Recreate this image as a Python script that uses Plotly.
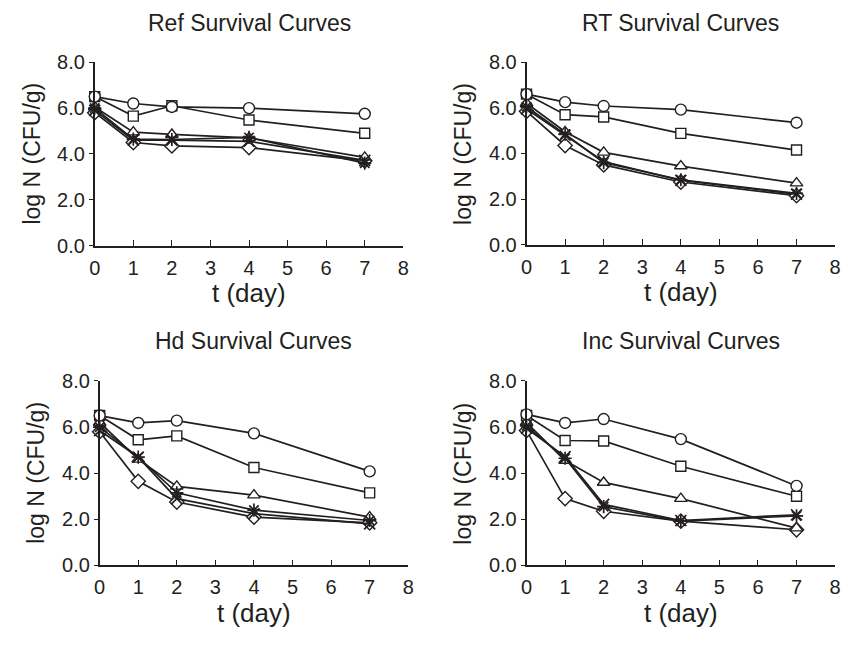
import plotly.graph_objects as go

# Sampling days
days = [0, 1, 2, 4, 7]

# log N (CFU/g) per storage condition, one list per series
ref_diamond = [5.8, 4.5, 4.35, 4.28, 3.7]
ref_square = [6.5, 5.65, 6.1, 5.48, 4.9]
ref_triangle = [6.05, 4.95, 4.85, 4.7, 3.85]
ref_x = [5.9, 4.6, 4.6, 4.55, 3.72]
ref_star = [6.0, 4.65, 4.63, 4.72, 3.6]
ref_circle = [6.5, 6.2, 6.05, 6.0, 5.75]

rt_diamond = [5.85, 4.35, 3.5, 2.75, 2.15]
rt_square = [6.6, 5.7, 5.6, 4.88, 4.15]
rt_triangle = [6.2, 4.95, 4.05, 3.45, 2.7]
rt_x = [5.95, 4.8, 3.65, 2.82, 2.22]
rt_star = [6.05, 4.85, 3.6, 2.85, 2.25]
rt_circle = [6.6, 6.25, 6.08, 5.92, 5.35]

hd_diamond = [5.8, 3.65, 2.75, 2.1, 1.85]
hd_square = [6.5, 5.45, 5.62, 4.25, 3.15]
hd_triangle = [6.2, 4.6, 3.43, 3.05, 2.1]
hd_x = [5.85, 4.7, 2.9, 2.25, 1.8]
hd_star = [6.0, 4.7, 3.15, 2.4, 1.95]
hd_circle = [6.5, 6.18, 6.28, 5.73, 4.08]

inc_diamond = [5.85, 2.9, 2.35, 1.92, 1.55]
inc_square = [6.5, 5.42, 5.4, 4.3, 3.0]
inc_triangle = [6.2, 4.55, 3.6, 2.9, 1.62]
inc_x = [5.95, 4.72, 2.65, 1.95, 2.2]
inc_star = [6.05, 4.65, 2.55, 1.92, 2.15]
inc_circle = [6.55, 6.18, 6.35, 5.48, 3.45]

titles = ["Ref Survival Curves", "RT Survival Curves",
          "Hd Survival Curves", "Inc Survival Curves"]
panels = [
    [ref_diamond, ref_square, ref_triangle, ref_x, ref_star, ref_circle],
    [rt_diamond, rt_square, rt_triangle, rt_x, rt_star, rt_circle],
    [hd_diamond, hd_square, hd_triangle, hd_x, hd_star, hd_circle],
    [inc_diamond, inc_square, inc_triangle, inc_x, inc_star, inc_circle],
]
y_ticks = [0, 2, 4, 6, 8]
y_tick_text = ["0.0", "2.0", "4.0", "6.0", "8.0"]
x_ticks = [0, 1, 2, 3, 4, 5, 6, 7, 8]

W, H = 849, 647
INK = "#231f20"
FONT = "Liberation Sans"

# plot-area boxes in pixels: left, right, top, bottom
boxes = [(90, 403, 53, 243), (528, 841, 53, 242),
         (95, 408, 383, 574), (528, 841, 383, 574)]

symbols = [
    dict(symbol="diamond", size=11, color="white", line=dict(color=INK, width=1.4)),
    dict(symbol="square", size=10, color="white", line=dict(color=INK, width=1.4)),
    dict(symbol="triangle-up", size=11, color="white", line=dict(color=INK, width=1.4)),
    dict(symbol="x-thin-open", size=11, color=INK, line=dict(color=INK, width=1.7)),
    dict(symbol="asterisk-open", size=11, color=INK, line=dict(color=INK, width=1.7)),
    dict(symbol="circle", size=11, color="white", line=dict(color=INK, width=1.4)),
]


def px_x(p):
    return p / W


def px_y(p):
    return 1 - p / H


fig = go.Figure()
annotations = []
layout = {}
for i, (series, (l, r, t, b)) in enumerate(zip(panels, boxes)):
    n = "" if i == 0 else str(i + 1)
    xa, ya = "xaxis" + n, "yaxis" + n
    for vals, mk in zip(series, symbols):
        fig.add_trace(go.Scatter(
            x=days, y=vals, mode="lines+markers", xaxis="x" + n, yaxis="y" + n,
            line=dict(color=INK, width=1.7), marker=mk, cliponaxis=False,
            showlegend=False))
    layout[xa] = dict(
        domain=[px_x(l), px_x(r)], anchor="y" + n, range=[0, 8], tickvals=x_ticks,
        ticks="inside", ticklen=6, tickcolor=INK, tickwidth=1.3,
        showline=True, linecolor=INK, linewidth=1.6, showgrid=False,
        zeroline=False, ticklabelstandoff=3,
        tickfont=dict(family=FONT, size=20, color=INK))
    layout[ya] = dict(
        domain=[px_y(b), px_y(t)], anchor="x" + n, range=[0, 8],
        tickvals=y_ticks, ticktext=y_tick_text,
        ticks="outside", ticklen=4, tickcolor=INK, tickwidth=1.3,
        showline=True, linecolor=INK, linewidth=1.6, showgrid=False,
        zeroline=False, tickfont=dict(family=FONT, size=20, color=INK))
    cx = px_x((l + r) / 2)
    annotations.append(dict(text=titles[i], x=cx, y=px_y(t - 41), xref="paper",
                            yref="paper", showarrow=False, xanchor="center",
                            yanchor="middle",
                            font=dict(family=FONT, size=23, color=INK)))
    annotations.append(dict(text="t (day)", x=cx, y=px_y(b + 49), xref="paper",
                            yref="paper", showarrow=False, xanchor="center",
                            yanchor="middle",
                            font=dict(family=FONT, size=26, color=INK)))
    annotations.append(dict(text="log N (CFU/g)", x=px_x(l - 64), y=px_y((t + b) / 2),
                            xref="paper", yref="paper", showarrow=False,
                            textangle=-90, xanchor="center", yanchor="middle",
                            font=dict(family=FONT, size=23, color=INK)))

fig.update_layout(
    width=W, height=H, margin=dict(l=0, r=0, t=0, b=0),
    paper_bgcolor="white", plot_bgcolor="white",
    annotations=annotations, **layout)

fig.write_html("out.html")
